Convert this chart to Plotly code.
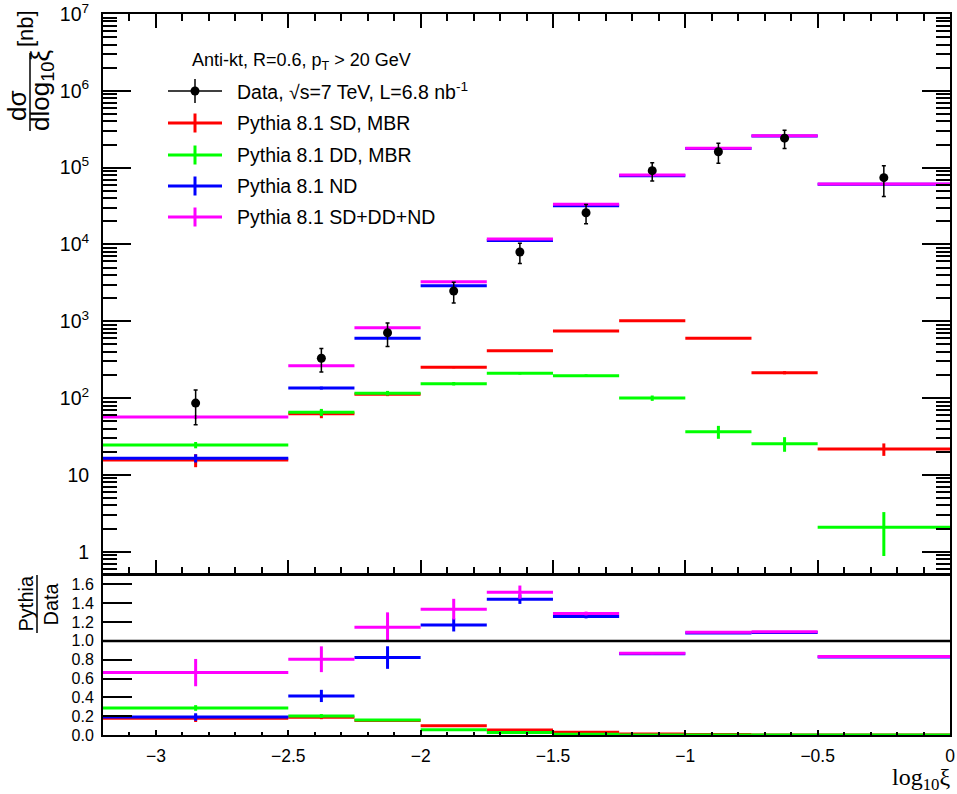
import plotly.graph_objects as go

# ---------------- data ----------------
bin_edges = [-3.2, -2.5, -2.25, -2.0, -1.75, -1.5, -1.25, -1.0, -0.75, -0.5, 0.0]

data_val = [86, 330, 710, 2480, 7980, 25900, 91400, 161000, 242000, 74100]
data_err = [41, 112, 240, 750, 2350, 7300, 24500, 47000, 65000, 32000]

sd_val = [15.6, 62.7, 112, 252, 414, 748, 1018, 601, 214, 21.7]
sd_err = [3, 8, 6, 8, 8, 10, 12, 10, 10, 4]
dd_val = [24.5, 65.3, 116, 154, 210, 196, 100, 36.5, 25.5, 2.08]
dd_err = [2.3, 7, 8, 8, 8, 8, 8, 7, 5.5, 1.2]
nd_val = [16.5, 135, 601, 2910, 11300, 32000, 78500, 177000, 259000, 60800]
nd_err = [2, 6, 15, 30, 60, 150, 300, 500, 900, 300]
sum_val = [56.7, 264, 826, 3280, 11800, 33400, 80400, 179000, 261000, 61400]
sum_err = [3, 10, 20, 40, 80, 200, 400, 700, 1000, 400]

r_sd = [0.178, 0.188, 0.155, 0.099, 0.052, 0.029, 0.011, 0.004, 0.001, 0.0003]
r_sd_err = [0.04, 0.02, 0.01, 0.005, 0.003, 0.002, 0.001, 0.001, 0.0005, 0.0002]
r_dd = [0.287, 0.202, 0.160, 0.057, 0.026, 0.008, 0.001, 0.0002, 0.0001, 0.00003]
r_dd_err = [0.03, 0.02, 0.01, 0.005, 0.003, 0.001, 0.0005, 0.0001, 0.0001, 0.00002]
r_nd = [0.191, 0.415, 0.823, 1.170, 1.443, 1.259, 0.862, 1.085, 1.090, 0.830]
r_nd_err = [0.04, 0.065, 0.12, 0.07, 0.05, 0.02, 0.01, 0.005, 0.005, 0.005]
r_sum = [0.663, 0.805, 1.146, 1.337, 1.518, 1.291, 0.869, 1.092, 1.096, 0.833]
r_sum_err = [0.145, 0.137, 0.157, 0.11, 0.07, 0.02, 0.01, 0.005, 0.005, 0.005]

x_tick_vals = [-3, -2.5, -2, -1.5, -1, -0.5, 0]
x_tick_text = ["\u22123", "\u22122.5", "\u22122", "\u22121.5", "\u22121", "\u22120.5", "0"]
y_tick_vals = [1, 10, 1e2, 1e3, 1e4, 1e5, 1e6, 1e7]
y_tick_text = ["1", "10", "10<sup>2</sup>", "10<sup>3</sup>", "10<sup>4</sup>",
               "10<sup>5</sup>", "10<sup>6</sup>", "10<sup>7</sup>"]
r_tick_vals = [0.0, 0.2, 0.4, 0.6, 0.8, 1.0, 1.2, 1.4, 1.6]
r_tick_text = ["0.0", "0.2", "0.4", "0.6", "0.8", "1.0", "1.2", "1.4", "1.6"]

legend_header = "Anti-kt, R=0.6, p<sub>T</sub> > 20 GeV"
legend_labels = ["Data, \u221as=7 TeV, L=6.8 nb<sup>-1</sup>",
                 "Pythia 8.1 SD, MBR", "Pythia 8.1 DD, MBR",
                 "Pythia 8.1 ND", "Pythia 8.1 SD+DD+ND"]

# ---------------- styling ----------------
RED, GREEN, BLUE, MAGENTA = "#ff0000", "#00ff00", "#0000ff", "#ff00ff"
FONT = "Liberation Sans, Arial, Helvetica, sans-serif"
W, H = 957, 794
L, R, T, B = 103, 7, 14, 59


def px(x):
    return (x - L) / (W - L - R)


def py(y):
    return (H - B - y) / (H - T - B)


centers = [(bin_edges[i] + bin_edges[i + 1]) / 2 for i in range(len(bin_edges) - 1)]


def hist_lines(vals):
    xs, ys = [], []
    for i, v in enumerate(vals):
        xs += [bin_edges[i], bin_edges[i + 1], None]
        ys += [v, v, None]
    return xs, ys


fig = go.Figure()


def add_series(vals, errs, color, xa, ya):
    xs, ys = hist_lines(vals)
    fig.add_trace(go.Scatter(x=xs, y=ys, mode="lines", xaxis=xa, yaxis=ya,
                             line=dict(color=color, width=3), showlegend=False,
                             hoverinfo="skip"))
    fig.add_trace(go.Scatter(x=centers, y=vals, mode="markers", xaxis=xa, yaxis=ya,
                             marker=dict(size=1, color=color, opacity=0),
                             error_y=dict(type="data", array=errs, color=color,
                                          thickness=3, width=0),
                             showlegend=False))


# top panel
add_series(sd_val, sd_err, RED, "x", "y")
add_series(dd_val, dd_err, GREEN, "x", "y")
add_series(nd_val, nd_err, BLUE, "x", "y")
add_series(sum_val, sum_err, MAGENTA, "x", "y")
fig.add_trace(go.Scatter(x=centers, y=data_val, mode="markers", xaxis="x", yaxis="y",
                         marker=dict(size=9, color="black"),
                         error_y=dict(type="data", array=data_err, color="black",
                                      thickness=1.5, width=2),
                         showlegend=False))

# ratio panel
add_series(r_sd, r_sd_err, RED, "x2", "y2")
add_series(r_dd, r_dd_err, GREEN, "x2", "y2")
add_series(r_nd, r_nd_err, BLUE, "x2", "y2")
add_series(r_sum, r_sum_err, MAGENTA, "x2", "y2")

minor_log = []
for e in range(-1, 7):
    for m in range(2, 10):
        minor_log.append(m * 10 ** e)

axis_common = dict(showgrid=False, zeroline=False, showline=True, linecolor="black",
                   linewidth=2, tickcolor="black", tickwidth=1.5, automargin=False)

fig.update_layout(
    width=W, height=H,
    margin=dict(l=L, r=R, t=T, b=B, pad=0, autoexpand=False),
    paper_bgcolor="white", plot_bgcolor="white",
    font=dict(family=FONT, color="black"),
    showlegend=False,
    xaxis=dict(axis_common, range=[-3.2, 0], domain=[0, 1], anchor="y",
               ticks="inside", ticklen=14, tickvals=x_tick_vals, showticklabels=False,
               mirror="ticks",
               minor=dict(ticks="inside", ticklen=7, dtick=0.1, tick0=0,
                          tickcolor="black", tickwidth=1.5)),
    yaxis=dict(axis_common, type="log", range=[-0.29, 7], domain=[py(574), 1],
               anchor="x", ticks="inside", ticklen=28, tickvals=y_tick_vals,
               ticktext=y_tick_text, mirror="ticks", tickfont=dict(size=19.5),
               ticklabelstandoff=8,
               minor=dict(ticks="inside", ticklen=14, tickvals=minor_log,
                          tickcolor="black", tickwidth=1.5)),
    xaxis2=dict(axis_common, range=[-3.2, 0], domain=[0, 1], anchor="y2",
                ticks="inside", ticklen=5, tickvals=x_tick_vals, ticktext=x_tick_text,
                mirror=True, tickfont=dict(size=17.5), ticklabelstandoff=4,
                minor=dict(ticks="inside", ticklen=3, dtick=0.1, tick0=0,
                           tickcolor="black", tickwidth=1.5)),
    yaxis2=dict(axis_common, range=[0, 1.7], domain=[0, py(575)], anchor="x2",
                ticks="inside", ticklen=29, tickvals=r_tick_vals, ticktext=r_tick_text,
                mirror=True, tickfont=dict(size=16), ticklabelstandoff=4),
)

# unity line in ratio panel
fig.add_shape(type="line", xref="x2 domain", yref="y2", x0=0, x1=1, y0=1, y1=1,
              line=dict(color="black", width=2.5))

# y-axis titles (fractions)
ann = []
ann.append(dict(text="d\u03c3", x=px(17), y=py(106), textangle=-90,
                font=dict(size=26)))
ann.append(dict(text="dlog<sub>10</sub>\u03be", x=px(42), y=py(91), textangle=-90,
                font=dict(size=26)))
ann.append(dict(text="[nb]", x=px(26), y=py(29), textangle=-90, font=dict(size=22)))
ann.append(dict(text="Pythia", x=px(25), y=py(603.5), textangle=-90,
                font=dict(size=20)))
ann.append(dict(text="Data", x=px(50), y=py(603.5), textangle=-90, font=dict(size=20)))
# x title
ann.append(dict(text="log<sub>10</sub>\u03be", x=px(952), y=py(779), xanchor="right",
                font=dict(size=24, family="Liberation Serif, Times New Roman, serif")))
# legend header
ann.append(dict(text=legend_header, x=px(190), y=py(62), xanchor="left",
                font=dict(size=18)))
row_y = [91, 123, 155, 186, 217]
for lab, yy in zip(legend_labels, row_y):
    ann.append(dict(text=lab, x=px(235), y=py(yy), xanchor="left", font=dict(size=19.5)))
for a in ann:
    a.update(xref="paper", yref="paper", showarrow=False)
    a.setdefault("xanchor", "center")
    a.setdefault("yanchor", "middle")
fig.update_layout(annotations=ann)

# fraction bars
fig.add_shape(type="line", xref="paper", yref="paper", x0=px(30), x1=px(30),
              y0=py(131), y1=py(53), line=dict(color="black", width=1.5))
fig.add_shape(type="line", xref="paper", yref="paper", x0=px(37), x1=px(37),
              y0=py(633), y1=py(575), line=dict(color="black", width=1.5))

# legend symbols
leg_colors = ["black", RED, GREEN, BLUE, MAGENTA]
for c, yy in zip(leg_colors, row_y):
    w = 1.5 if c == "black" else 3
    h = 12 if c == "black" else 9.5
    fig.add_shape(type="line", xref="paper", yref="paper", x0=px(168), x1=px(222),
                  y0=py(yy), y1=py(yy), line=dict(color=c, width=w))
    fig.add_shape(type="line", xref="paper", yref="paper", x0=px(195), x1=px(195),
                  y0=py(yy - h), y1=py(yy + h), line=dict(color=c, width=w))
fig.add_shape(type="circle", xref="paper", yref="paper", x0=px(190.5), x1=px(199.5),
              y0=py(91 - 4.5), y1=py(91 + 4.5), fillcolor="black",
              line=dict(color="black", width=0))

fig.write_html("out.html", config={"displayModeBar": False},
               post_script="document.body.style.margin='0';"
                           "document.body.style.overflow='hidden';")
